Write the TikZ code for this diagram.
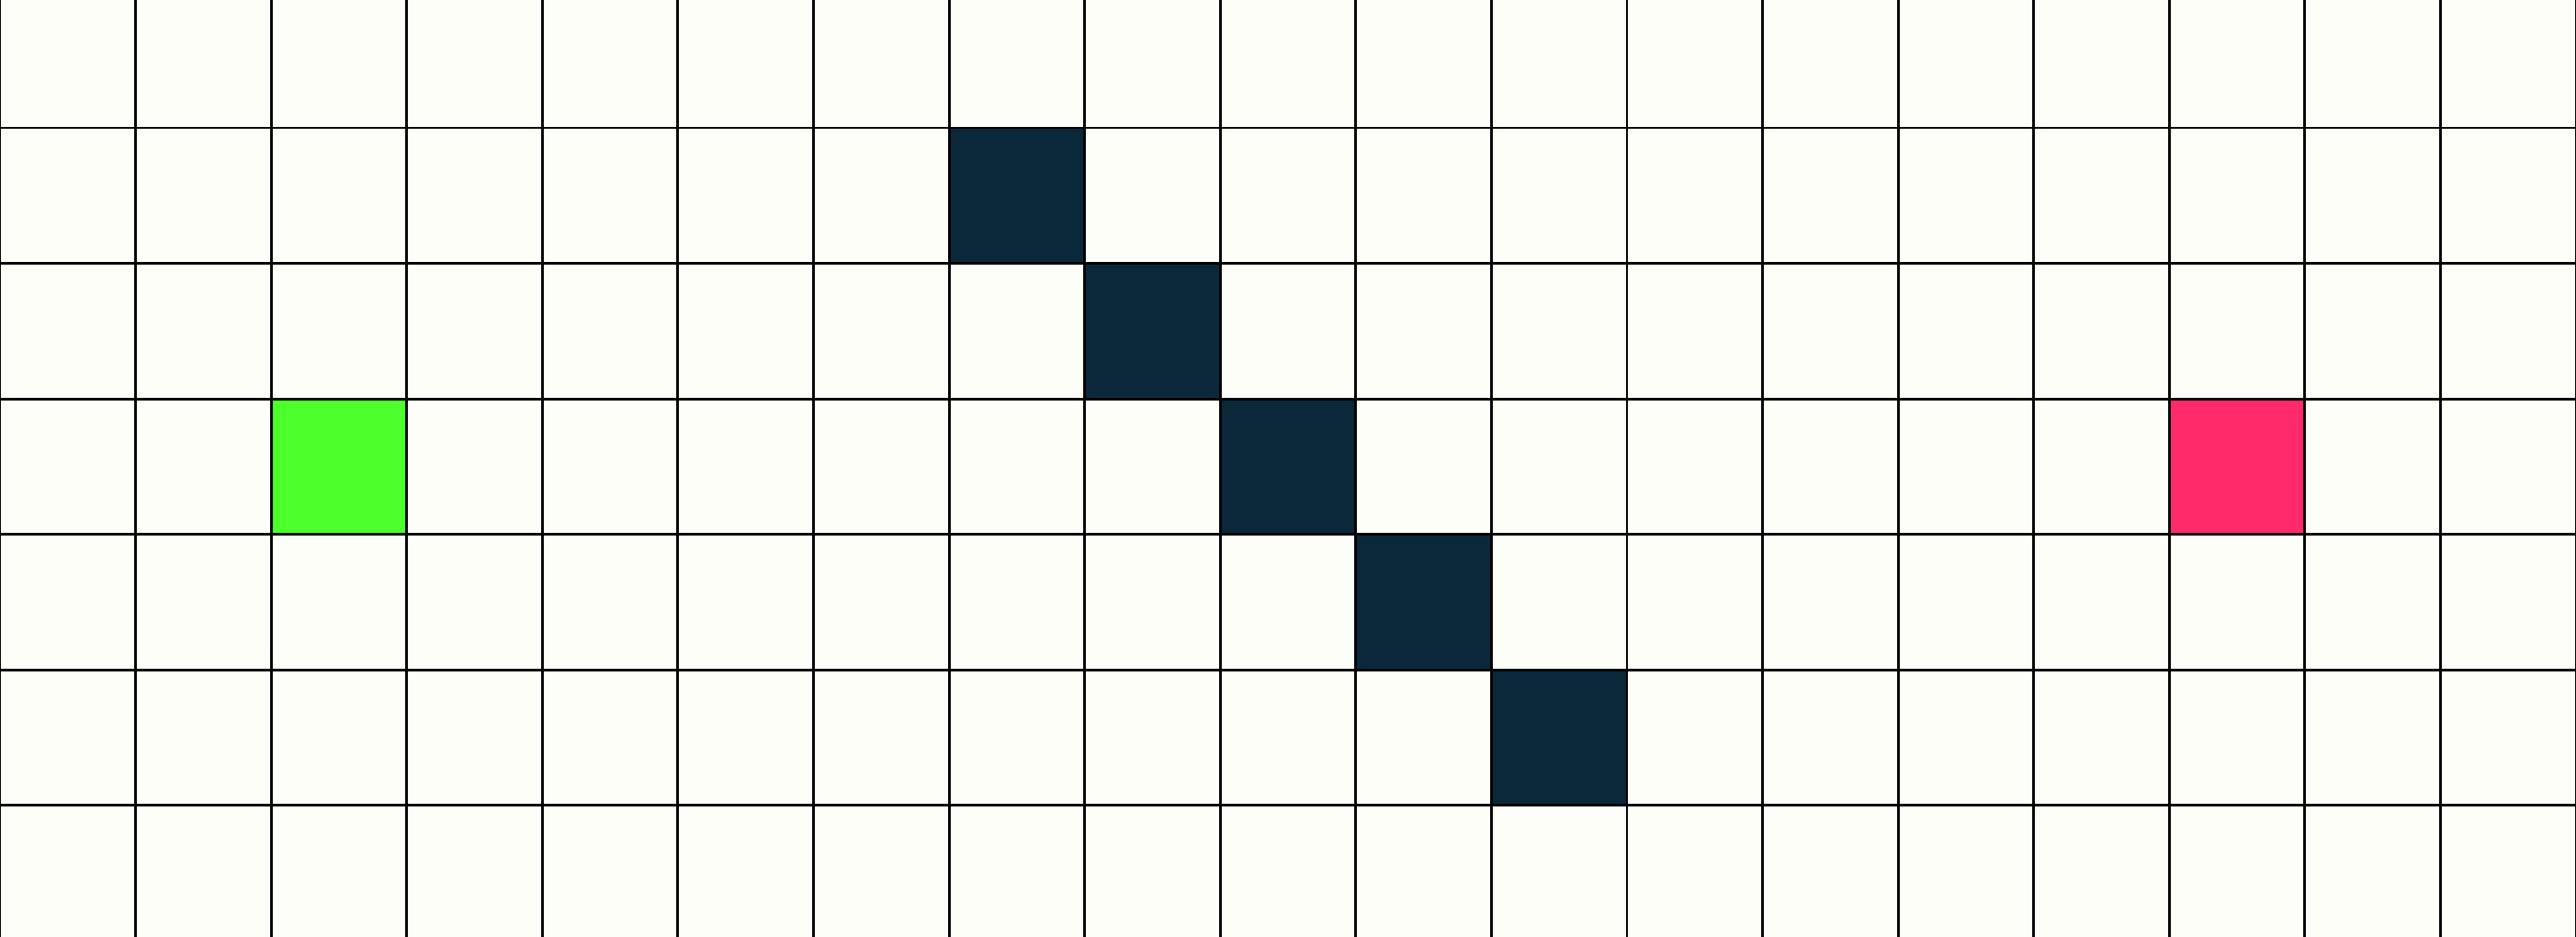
\documentclass[tikz,border=0pt]{standalone}
\usepackage{xcolor}
\usepackage{tikz}
\definecolor{paper}{RGB}{254,254,249}
\definecolor{wallblue}{RGB}{10,40,58}
\definecolor{startgreen}{RGB}{74,255,42}
\definecolor{goalpink}{RGB}{255,42,106}

\begin{document}
\begin{tikzpicture}[wall/.style={fill=wallblue}, gridline/.style={black, line width=0.55pt}]
        \useasboundingbox (0,0.0297) rectangle (19,6.9434);
        \clip (0,0.0297) rectangle (19,6.9434);
        \fill [paper] (0,0) rectangle (19,7);

        % obstacle diagonal
        \foreach \i in {0,...,4}
            \fill [wall] (7+\i,5-\i) rectangle (8+\i,6-\i);

        \fill [startgreen] (2,3) rectangle (3,4);
        \fill [goalpink] (16,3) rectangle (17,4);

        \draw [gridline] (0,0) grid (19,7);
    \end{tikzpicture}
\end{document}
